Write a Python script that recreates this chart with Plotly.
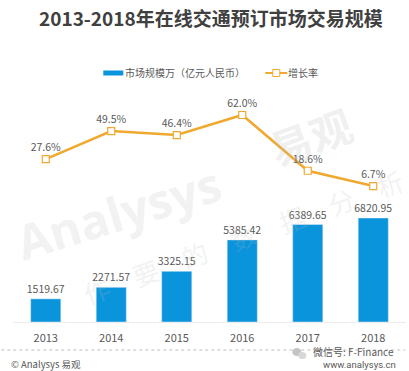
import plotly.graph_objects as go

years = ["2013", "2014", "2015", "2016", "2017", "2018"]
market_size = [1519.67, 2271.57, 3325.15, 5385.42, 6389.65, 6820.95]
growth_rate = [27.6, 49.5, 46.4, 62.0, 18.6, 6.7]
market_labels = ["1519.67", "2271.57", "3325.15", "5385.42", "6389.65", "6820.95"]
growth_labels = ["27.6%", "49.5%", "46.4%", "62.0%", "18.6%", "6.7%"]

W, H = 409, 371
FONT = "Noto Sans CJK SC"
BLUE = "#0a94dc"
ORANGE = "#f0a92e"
TXT = "#595959"
L, R, T, B = 12.7, 405.7, 100, 322

def sx(x): return (x - L) / (R - L)
def sy(y): return (y - B) / (T - B)

fig = go.Figure()
fig.add_trace(go.Bar(x=years, y=market_size, name="市场规模万（亿元人民币）", marker_color=BLUE, width=0.46,
                     text=market_labels, textposition="outside", cliponaxis=False, constraintext="none",
                     textangle=0, textfont=dict(size=10.5, color=TXT, family=FONT), showlegend=False))
fig.add_trace(go.Scatter(x=years, y=growth_rate, name="增长率", yaxis="y2", mode="lines+markers+text",
                         line=dict(color=ORANGE, width=2.5),
                         marker=dict(symbol="square", size=7, color="white", line=dict(color=ORANGE, width=1.2)),
                         text=growth_labels, textposition="top center", cliponaxis=False,
                         textfont=dict(size=10.5, color=TXT, family=FONT), showlegend=False))

annotations = [
    dict(text="<b>2013-2018年在线交通预订市场交易规模</b>", x=211, y=17, font=dict(size=19, color="#404040")),
    dict(text="市场规模万（亿元人民币）", x=185, y=73, font=dict(size=10, color=TXT)),
    dict(text="增长率", x=303, y=73, font=dict(size=10, color=TXT)),
    dict(text="© Analysys 易观", x=9, y=364, xanchor="left", font=dict(size=9.5, color=TXT)),
    dict(text="微信号: F-Finance", x=396, y=351.5, xanchor="right", font=dict(size=10, color=TXT)),
    dict(text="www.analysys.cn", x=398, y=364.2, xanchor="right", font=dict(size=9.5, color=TXT, family="Roboto")),
    dict(text="<b>Analysys</b>", x=118, y=212, textangle=-17, font=dict(size=48, color="rgba(190,190,190,0.2)", family="Open Sans")),
    dict(text="<b>易观</b>", x=310, y=135, textangle=-20, font=dict(size=42, color="rgba(190,190,190,0.22)")),
    dict(text="作　要　的　数　据　分　析", x=243, y=236, textangle=-20, font=dict(size=26, color="rgba(190,190,190,0.2)")),
]
for a in annotations:
    a["x"], a["y"] = sx(a["x"]), sy(a["y"])
    a.setdefault("xanchor", "center")
    a.update(xref="paper", yref="paper", yanchor="middle", showarrow=False)
    a["font"].setdefault("family", FONT)

shapes = [
    dict(type="rect", x0=sx(103), x1=sx(123), y0=sy(70.5), y1=sy(75.5), fillcolor=BLUE, line_width=0),
    dict(type="line", x0=sx(265), x1=sx(287), y0=sy(73), y1=sy(73), line=dict(color=ORANGE, width=2)),
    dict(type="rect", x0=sx(272.5), x1=sx(279.5), y0=sy(69.5), y1=sy(76.5), fillcolor="white", line=dict(color=ORANGE, width=1)),
    dict(type="line", x0=sx(1), x1=sx(405), y0=sy(350), y1=sy(350), line=dict(color="#bdbdbd", width=1, dash="dot")),
    dict(type="circle", x0=sx(292), x1=sx(301), y0=sy(348), y1=sy(356), fillcolor="#c4c4c4", line_width=0),
    dict(type="circle", x0=sx(298), x1=sx(306), y0=sy(352), y1=sy(359), fillcolor="#d8d8d8", line_width=0),
]
for s in shapes:
    s.update(xref="paper", yref="paper")

fig.update_layout(
    width=W, height=H, autosize=False,
    margin=dict(l=L, r=W - R, t=T, b=H - B),
    paper_bgcolor="white", plot_bgcolor="white", showlegend=False,
    xaxis=dict(type="category", showgrid=False, showline=True, linecolor="#ececec",
               ticks="outside", ticklen=6, tickcolor="rgba(0,0,0,0)",
               tickfont=dict(size=11, color=TXT, family=FONT)),
    yaxis=dict(range=[0, 14560], visible=False, showgrid=False),
    yaxis2=dict(range=[-99.2, 73.7], overlaying="y", visible=False, showgrid=False),
    annotations=annotations, shapes=shapes,
)

fig.write_html("out.html", config={"displayModeBar": False},
               post_script="document.body.style.margin='0';document.documentElement.style.overflow='hidden';")
